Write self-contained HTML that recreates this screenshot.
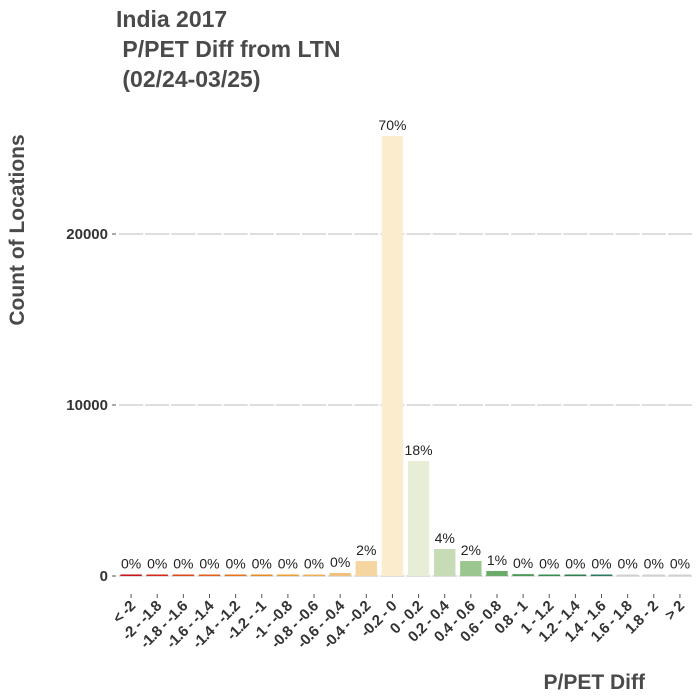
<!DOCTYPE html>
<html><head><meta charset="utf-8"><style>
body{margin:0;background:#fff;}
svg{display:block;font-family:"Liberation Sans",sans-serif;}
</style></head><body>
<svg id="chart" width="700" height="700">
<text x="116" y="27" font-size="23" font-weight="bold" fill="#4a4a4a">India 2017</text>
<text x="116" y="57" font-size="23" font-weight="bold" fill="#4a4a4a" xml:space="preserve"> P/PET Diff from LTN</text>
<text x="116" y="87" font-size="23" font-weight="bold" fill="#4a4a4a" xml:space="preserve"> (02/24-03/25)</text>
<text transform="translate(24,230) rotate(-90)" text-anchor="middle" font-size="21" font-weight="bold" fill="#4a4a4a">Count of Locations</text>
<text x="645" y="689" text-anchor="end" font-size="21" font-weight="bold" fill="#4a4a4a">P/PET Diff</text>
<g id="grid"></g><g id="bars"></g><g id="labels"></g><g id="axes"></g>
</svg>
<script>
const categories=["< -2","-2 - -1.8","-1.8 - -1.6","-1.6 - -1.4","-1.4 - -1.2","-1.2 - -1","-1 - -0.8","-0.8 - -0.6","-0.6 - -0.4","-0.4 - -0.2","-0.2 - 0","0 - 0.2","0.2 - 0.4","0.4 - 0.6","0.6 - 0.8","0.8 - 1","1 - 1.2","1.2 - 1.4","1.4 - 1.6","1.6 - 1.8","1.8 - 2","> 2"];
const counts=[90,40,40,40,40,40,40,50,175,877,25730,6725,1580,877,292,110,60,50,40,20,15,15];
const pctLabels=["0%","0%","0%","0%","0%","0%","0%","0%","0%","2%","70%","18%","4%","2%","1%","0%","0%","0%","0%","0%","0%","0%"];
const colors=["#c8141e","#d42a1a","#dc4a1a","#e0601c","#e4741e","#e88a24","#ec9e34","#eeb058","#f0c07c","#f5d5a0","#fcecce","#e8eed6","#c6dcb6","#9cc690","#6aab6a","#4f9a5a","#3a8c52","#2f8050","#2a7a5c","#d0d0d0","#d0d0d0","#d0d0d0"];
const yTicks=[0,10000,20000];
const NS="http://www.w3.org/2000/svg";
const x0=118,x1=693,y0=576,pxPer=171/10000;
const band=(x1-x0)/categories.length;
function xc(i){return x0+band*(i+0.5);}
function y(v){return y0-v*pxPer;}
function mk(t,a,p){const e=document.createElementNS(NS,t);for(const k in a)e.setAttribute(k,a[k]);p.appendChild(e);return e;}
const grid=document.getElementById('grid'),bars=document.getElementById('bars'),labels=document.getElementById('labels'),axes=document.getElementById('axes');
yTicks.forEach(v=>{
 for(let i=0;i<categories.length;i++){
  const s=mk('line',{x1:x0+band*i+1,x2:x0+band*(i+1)-1,y1:y(v),y2:y(v),stroke:'#d4d4d4','stroke-width':1.5},grid);
  
  
 }
 const t=mk('line',{x1:112,x2:116,y1:y(v),y2:y(v),stroke:'#555'},axes);
 
 
 const l=mk('text',{x:108,y:y(v)+5,'text-anchor':'end','font-size':15,'font-weight':'bold',fill:'#333'},axes);
 l.textContent=v;
 
 
});
const bw=band*0.82;
categories.forEach((c,i)=>{
 const h=Math.max(counts[i]*pxPer,1.5);
 const r=mk('rect',{x:xc(i)-bw/2,y:y0-h,width:bw,height:h,fill:colors[i]},bars);
 
 
 const p=mk('text',{x:xc(i),y:y0-h-6,'text-anchor':'middle','font-size':14,fill:'#222'},labels);
 p.textContent=pctLabels[i];
 
 
 const tk=mk('line',{x1:xc(i),x2:xc(i),y1:594,y2:598,stroke:'#555'},axes);
 
 
 const tl=mk('text',{transform:`translate(${xc(i)+5},${607}) rotate(-45)`,'text-anchor':'end','font-size':15,'font-weight':'bold',fill:'#333','letter-spacing':'-0.5'},axes);
 tl.textContent=c;
 
 
});
</script>
</body></html>
